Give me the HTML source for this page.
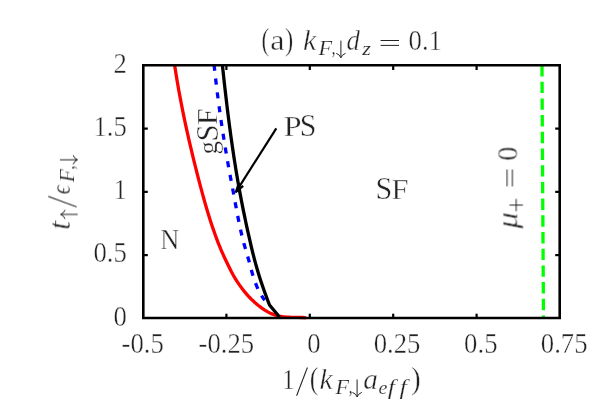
<!DOCTYPE html>
<html><head><meta charset="utf-8">
<style>
html,body{margin:0;padding:0;background:#fff;}
svg{display:block;}
text{font-family:"Liberation Serif",serif;font-size:28.4px;fill:#222;stroke:#fff;stroke-width:0.4px;paint-order:fill stroke;}
.i{font-style:italic;}
.s{font-size:20.0px;stroke-width:0.2px;}
</style></head><body>
<svg width="603" height="403" viewBox="0 0 603 403">
<rect x="0" y="0" width="603" height="403" fill="#fff"/>
<!-- curves -->
<path d="M174.60 65.00 L175.19 68.87 L175.80 72.74 L176.43 76.60 L177.07 80.46 L177.73 84.32 L178.41 88.18 L179.10 92.03 L179.81 95.87 L180.53 99.72 L181.27 103.56 L182.02 107.40 L182.79 111.23 L183.57 115.06 L184.37 118.89 L185.18 122.72 L186.00 126.54 L186.83 130.36 L187.68 134.18 L188.54 137.99 L189.41 141.81 L190.30 145.62 L191.19 149.42 L192.10 153.23 L193.02 157.03 L193.95 160.83 L194.89 164.63 L195.84 168.43 L196.80 172.22 L197.77 176.02 L198.75 179.81 L199.74 183.60 L200.74 187.38 L201.75 191.17 L202.78 194.94 L203.83 198.72 L204.89 202.49 L205.97 206.25 L207.08 210.00 L208.21 213.75 L209.37 217.49 L210.56 221.21 L211.77 224.93 L213.02 228.64 L214.31 232.33 L215.62 236.02 L216.98 239.69 L218.38 243.34 L219.83 246.97 L221.35 250.58 L222.94 254.15 L224.58 257.70 L226.26 261.24 L227.96 264.77 L229.67 268.28 L231.44 271.78 L233.30 275.22 L235.27 278.59 L237.37 281.89 L239.58 285.13 L241.89 288.29 L244.29 291.39 L246.80 294.39 L249.42 297.29 L252.19 300.06 L255.08 302.70 L258.08 305.21 L261.19 307.61 L264.40 309.85 L267.74 311.88 L271.25 313.63 L274.91 315.04 L278.68 316.08 L282.53 316.74 L286.44 317.09 L290.38 317.25 L294.32 317.31 L298.26 317.35 L302.16 317.48 L306.00 317.80" fill="none" stroke="#ff0000" stroke-width="3.3"/>
<path d="M214.10 65.00 L214.43 68.04 L214.76 71.08 L215.09 74.13 L215.44 77.17 L215.79 80.21 L216.15 83.25 L216.51 86.28 L216.88 89.32 L217.26 92.36 L217.64 95.40 L218.03 98.43 L218.43 101.47 L218.83 104.50 L219.24 107.53 L219.65 110.57 L220.08 113.60 L220.50 116.63 L220.94 119.66 L221.38 122.69 L221.83 125.72 L222.28 128.74 L222.74 131.77 L223.21 134.79 L223.68 137.82 L224.17 140.84 L224.65 143.86 L225.15 146.88 L225.65 149.90 L226.15 152.92 L226.67 155.94 L227.19 158.95 L227.71 161.97 L228.24 164.98 L228.78 168.00 L229.33 171.01 L229.88 174.02 L230.44 177.02 L231.01 180.03 L231.58 183.04 L232.15 186.04 L232.72 189.05 L233.28 192.06 L233.84 195.07 L234.39 198.08 L234.94 201.10 L235.49 204.11 L236.05 207.13 L236.61 210.14 L237.17 213.15 L237.75 216.16 L238.34 219.17 L238.94 222.17 L239.56 225.17 L240.20 228.16 L240.87 231.15 L241.56 234.13 L242.27 237.10 L243.02 240.07 L243.79 243.02 L244.61 245.97 L245.46 248.91 L246.33 251.84 L247.21 254.78 L248.06 257.71 L248.89 260.66 L249.67 263.62 L250.45 266.58 L251.24 269.54 L252.05 272.49 L252.92 275.42 L253.84 278.33 L254.83 281.23 L255.90 284.11 L257.03 286.96 L258.27 289.78 L259.64 292.54 L261.16 295.19 L262.87 297.73 L264.80 300.10" fill="none" stroke="#0000ff" stroke-width="3.3" stroke-dasharray="6.1 7.82" stroke-dashoffset="0.3"/>
<path d="M222.40 65.00 L222.73 68.09 L223.06 71.17 L223.39 74.26 L223.72 77.34 L224.06 80.43 L224.40 83.51 L224.75 86.60 L225.10 89.68 L225.45 92.77 L225.81 95.85 L226.17 98.93 L226.53 102.02 L226.90 105.10 L227.27 108.18 L227.65 111.26 L228.03 114.35 L228.42 117.43 L228.81 120.51 L229.21 123.59 L229.61 126.66 L230.02 129.74 L230.44 132.82 L230.86 135.89 L231.29 138.97 L231.72 142.04 L232.16 145.12 L232.61 148.19 L233.06 151.26 L233.52 154.33 L233.99 157.40 L234.46 160.47 L234.94 163.54 L235.43 166.60 L235.93 169.67 L236.43 172.73 L236.95 175.79 L237.47 178.85 L238.00 181.91 L238.54 184.97 L239.08 188.02 L239.64 191.08 L240.20 194.13 L240.78 197.18 L241.36 200.23 L241.95 203.28 L242.55 206.32 L243.15 209.37 L243.77 212.41 L244.39 215.45 L245.03 218.49 L245.67 221.53 L246.32 224.56 L246.97 227.60 L247.64 230.63 L248.31 233.66 L249.00 236.69 L249.69 239.72 L250.38 242.74 L251.09 245.77 L251.81 248.79 L252.54 251.80 L253.29 254.82 L254.06 257.82 L254.85 260.83 L255.66 263.82 L256.49 266.81 L257.35 269.80 L258.23 272.77 L259.15 275.74 L260.08 278.70 L261.05 281.65 L262.04 284.59 L263.05 287.53 L264.08 290.46 L265.14 293.37 L266.21 296.29 L267.29 299.20 L268.39 302.10 L269.50 305.00 L279.5 317" fill="none" stroke="#000" stroke-width="3.3" stroke-linejoin="round"/>
<polyline points="542,65 542.55,170 543.5,318" fill="none" stroke="#00ff00" stroke-width="3.3" stroke-dasharray="11.4 5.3"/>
<!-- arrow -->
<g stroke="#000" stroke-width="2.2" fill="none">
<line x1="276.3" y1="128.4" x2="236.3" y2="191.3"/>
<polyline points="243.2,185.8 236.0,191.8 238.8,183.2" stroke-linejoin="round"/>
</g>
<!-- frame -->
<g stroke="#000" stroke-width="2.2"><line x1="226.40" y1="318" x2="226.40" y2="313.70"/><line x1="226.40" y1="65" x2="226.40" y2="70.00"/><line x1="309.80" y1="318" x2="309.80" y2="313.70"/><line x1="309.80" y1="65" x2="309.80" y2="70.00"/><line x1="393.20" y1="318" x2="393.20" y2="313.70"/><line x1="393.20" y1="65" x2="393.20" y2="70.00"/><line x1="476.60" y1="318" x2="476.60" y2="313.70"/><line x1="476.60" y1="65" x2="476.60" y2="70.00"/><line x1="143" y1="255.10" x2="147.80" y2="255.10"/><line x1="560" y1="255.10" x2="555.20" y2="255.10"/><line x1="143" y1="191.85" x2="147.80" y2="191.85"/><line x1="560" y1="191.85" x2="555.20" y2="191.85"/><line x1="143" y1="128.60" x2="147.80" y2="128.60"/><line x1="560" y1="128.60" x2="555.20" y2="128.60"/></g>
<g stroke="#000" stroke-width="2.6"><line x1="143.3" y1="63.9" x2="143.3" y2="319.1"/><line x1="559.7" y1="63.9" x2="559.7" y2="319.1"/><line x1="142" y1="65.2" x2="561" y2="65.2"/><line x1="142" y1="317.95" x2="561" y2="317.95" stroke-width="2.4"/></g>
<g opacity="0.999">
<!-- tick labels -->
<text transform="translate(142.70 353.30) scale(0.94 1)" text-anchor="middle">-0.5</text>
<text transform="translate(226.30 353.30) scale(0.94 1)" text-anchor="middle">-0.25</text>
<text transform="translate(314.00 353.30) scale(0.94 1)" text-anchor="middle">0</text>
<text transform="translate(397.10 353.30) scale(0.94 1)" text-anchor="middle">0.25</text>
<text transform="translate(480.80 353.30) scale(0.94 1)" text-anchor="middle">0.5</text>
<text transform="translate(564.20 353.30) scale(0.94 1)" text-anchor="middle">0.75</text>
<text transform="translate(126.80 72.60) scale(0.94 1)" text-anchor="end">2</text>
<text transform="translate(126.80 135.85) scale(0.94 1)" text-anchor="end">1.5</text>
<text transform="translate(126.80 199.10) scale(0.94 1)" text-anchor="end">1</text>
<text transform="translate(126.80 262.35) scale(0.94 1)" text-anchor="end">0.5</text>
<text transform="translate(126.80 325.60) scale(0.94 1)" text-anchor="end">0</text>

<!-- title -->
<text transform="translate(261.46 50.00) scale(0.836 1.106)">(</text>
<text transform="translate(270.17 50.00) scale(1.132 1.000)">a</text>
<text transform="translate(285.00 50.00) scale(0.877 1.106)">)</text>
<text transform="translate(303.03 50.00) scale(1.065 1.000)" class="i">k</text>
<text transform="translate(318.42 54.90) scale(1.113 1.061)" class="i s">F</text>
<text transform="translate(331.64 54.30) scale(0.739 1.000)" class="s">,</text>
<path d="M340.90 40.60 L340.90 57.10 M336.25 53.30 Q340.00 54.70 340.90 57.90 Q341.80 54.70 345.55 53.30" fill="none" stroke="#222" stroke-width="1"/>
<text transform="translate(346.59 50.00) scale(0.940 1.000)" class="i">d</text>
<text transform="translate(362.25 54.50) scale(1.111 0.904)" class="i s">z</text>
<path d="M380.60 40.50 H399.00 M380.60 45.40 H399.00" fill="none" stroke="#222" stroke-width="1"/>
<text transform="translate(408.60 50.00) scale(0.94 1)">0.1</text>

<!-- xlabel -->
<text transform="translate(281.68 388.50) scale(0.930 1.000)">1</text>
<path d="M296.60 395.80 L307.40 367.50" fill="none" stroke="#222" stroke-width="1.05"/>
<text transform="translate(309.85 388.50) scale(0.919 1.076)">(</text>
<text transform="translate(319.44 388.50) scale(1.049 1.000)" class="i">k</text>
<text transform="translate(335.42 393.80) scale(1.105 1.092)" class="i s">F</text>
<text transform="translate(348.71 393.20) scale(0.772 1.000)" class="s">,</text>
<path d="M357.10 379.50 L357.10 396.20 M352.45 392.40 Q356.20 393.80 357.10 397.00 Q358.00 393.80 361.75 392.40" fill="none" stroke="#222" stroke-width="1"/>
<text transform="translate(363.13 388.50) scale(1.034 1.000)" class="i">a</text>
<text transform="translate(378.39 393.80) scale(0.998 0.955)" class="i s">e</text>
<text transform="translate(387.70 393.80) scale(1.323 1.037)" class="i s">f</text>
<text transform="translate(399.40 393.80) scale(1.323 1.037)" class="i s">f</text>
<text transform="translate(410.96 388.50) scale(1.028 1.076)">)</text>

<!-- ylabel -->
<g transform="translate(70,228.5) rotate(-90)">
<text transform="translate(-1.44 0.00) scale(1.151 1.145)" class="i">t</text>
<path d="M14.10 7.70 L14.10 -8.70 M9.60 -4.90 Q13.20 -6.30 14.10 -9.50 Q15.00 -6.30 18.60 -4.90" fill="none" stroke="#222" stroke-width="1"/>
<path d="M21.60 6.60 L32.10 -21.80" fill="none" stroke="#222" stroke-width="1.05"/>
<text transform="translate(34.34 0.00) scale(0.782 0.979)" class="i">&#1013;</text>
<text transform="translate(46.22 4.40) scale(1.073 1.061)" class="i s">F</text>
<text transform="translate(59.11 3.80) scale(0.772 1.000)" class="s">,</text>
<path d="M68.70 -10.10 L68.70 6.90 M64.20 3.10 Q67.80 4.50 68.70 7.70 Q69.60 4.50 73.20 3.10" fill="none" stroke="#222" stroke-width="1"/>
</g>

<!-- region labels -->
<text transform="translate(160.34 249.00) scale(0.930 1.070)">N</text>
<text transform="translate(283.46 135.70) scale(1.149 1.049)">P</text>
<text transform="translate(299.80 135.90) scale(1.055 1.111)">S</text>
<text transform="translate(375.38 198.90) scale(1.063 1.111)">S</text>
<text transform="translate(391.42 198.70) scale(1.075 1.059)">F</text>
<g transform="translate(217.3,153.5) rotate(-90)"><text transform="translate(-0.96 0.00) scale(0.949 0.940)">g</text>
<text transform="translate(12.03 0.30) scale(1.088 1.096)">S</text>
<text transform="translate(28.44 0.00) scale(1.047 1.070)">F</text>
</g>
<g transform="translate(517.3,228.5) rotate(-90)"><text transform="translate(0.03 0.00) scale(1.147 1.020)" class="i">&#956;</text>
<path d="M17.3 -1.1 H29.6 M23.45 -7.8 V5.6" fill="none" stroke="#222" stroke-width="1"/>
<path d="M42.10 -10.20 H59.00 M42.10 -4.90 H59.00" fill="none" stroke="#222" stroke-width="1"/>
<text transform="translate(67.72 0.00) scale(0.997 1.032)">0</text>
</g>
</g>
</svg>
</body></html>
